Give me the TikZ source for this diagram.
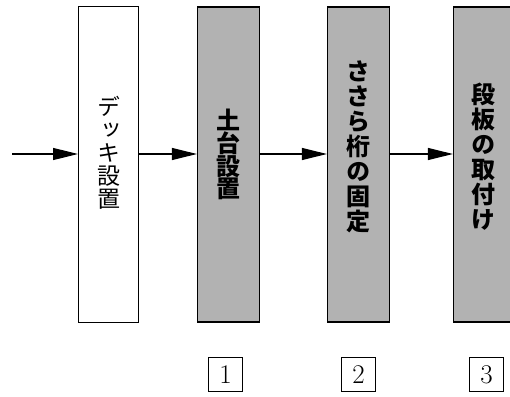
\documentclass[tikz,border=0pt]{standalone}
\usepackage{fontspec}
\newfontfamily\jpfont[RawFeature=+vert]{Noto Sans CJK JP}
\usetikzlibrary{arrows.meta, positioning}
\tikzset{
	stage/.style={draw, rectangle, line width=1pt, minimum width=60pt, minimum height=315pt, fill=white},
	work/.style={draw, rectangle, line width=1.2pt, minimum width=62pt, minimum height=315pt, fill=black!30},
	vtext/.style={align=center, font=\jpfont\fontsize{23}{23}\selectfont, inner sep=0pt},
	% step numbers under the columns
	num/.style={draw, rectangle, line width=0.8pt, minimum width=34pt, minimum height=34pt, inner sep=0pt, font=\fontsize{27}{27}\selectfont},
}

\begin{document}
\begin{tikzpicture}[x=1pt, y=1pt, node distance=120pt]
			\useasboundingbox (0,0) rectangle (510,-396);
			\node (deck) [stage] at (108.5,-164.5) {};
			\node (base) [work, right of=deck] {};
			\node (fix) [work, right of=base, xshift=10pt] {};
			\node (tread) [work, right of=fix, xshift=7pt, minimum width=64pt] {};
			
			\node (tdeck) [vtext] at ([yshift=12pt]deck.center) {デ\\ッ\\キ\\設\\置};
			\node (tbase) [vtext, font=\jpfont\bfseries\fontsize{24}{22}\selectfont] at ([yshift=10pt]base.center) {土\\台\\設\\置};
			\node (tfix) [vtext, font=\jpfont\bfseries\fontsize{24}{25}\selectfont] at ([yshift=18pt]fix.center) {さ\\さ\\ら\\桁\\の\\固\\定};
			\node (ttread) [vtext, font=\jpfont\bfseries\fontsize{24}{25}\selectfont] at ([yshift=8pt, xshift=-2pt]tread.center) {段\\板\\の\\取\\付\\け};
			
			\node (n1) [num, below of=base, yshift=-90pt, xshift=-3pt] {1};
			\node (n2) [num, below of=fix, yshift=-90pt] {2};
			\node (n3) [num, below of=tread, yshift=-90pt, xshift=1pt] {3};
			
			\coordinate (in) at (12,-154);
			\begin{scope}[line width=1.2pt, black, -{Triangle[length=25pt, width=12pt]}]
				\draw (in) -- (in -| deck.west);
				\draw (in -| deck.east) -- (in -| base.west);
				\draw (in -| base.east) -- (in -| fix.west);
				\draw (in -| fix.east) -- (in -| tread.west);
			\end{scope}
		\end{tikzpicture}
\end{document}
